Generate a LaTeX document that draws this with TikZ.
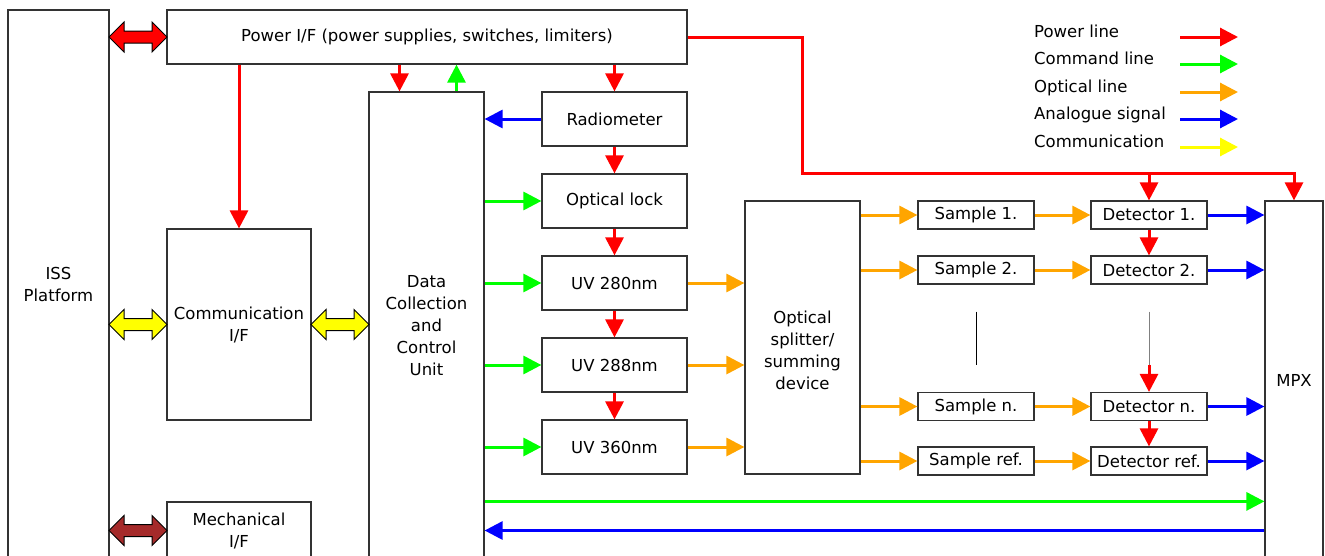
\documentclass[tikz,border=0pt]{standalone}
\usepackage{fontspec}
\setmainfont{DejaVu Sans}
\usepackage{tikz}
\usetikzlibrary{arrows.meta, shapes.arrows, calc}
\definecolor{pwrred}{HTML}{FF0000}
\definecolor{cmdgreen}{HTML}{00FF00}
\definecolor{optorange}{HTML}{FFA500}
\definecolor{anablue}{HTML}{0000FF}
\definecolor{comyellow}{HTML}{FFFF00}
\definecolor{mechbrown}{HTML}{A52A2A}
\definecolor{myborder}{HTML}{333333}
\tikzset{
block/.style={
draw=myborder,
fill=white,
line width=1.2pt,
inner sep=0pt,
align=center,
font=\fontsize{16.5}{22}\selectfont
},
chainbox/.style={
block,
minimum width=145,
minimum height=54
},
smallbox/.style={
block,
minimum width=116,
minimum height=28
},
labeltext/.style={
inner sep=0pt,
font=\fontsize{16.5}{22}\selectfont
},
linkarrow/.style={
double arrow,
draw=black,
line width=1pt,
inner xsep=0pt,
inner ysep=5.5pt,
double arrow head extend=9pt,
double arrow tip angle=90,
minimum height=58
},
sigline/.style={
-{Triangle[length=18pt,width=18pt]},
line width=3pt,
draw=#1
},
pwrline/.style={sigline=pwrred},
cmdline/.style={sigline=cmdgreen},
optline/.style={sigline=optorange},
analine/.style={sigline=anablue},
gapline/.style={draw=black, line width=1pt}
}

\begin{document}
\begin{tikzpicture}[x=1pt, y=-1pt]
\clip (0,0) rectangle (1325,555);

% interfaces
\node[block, minimum width=101, minimum height=549] (iss) at (58.5,284.5) {ISS\\Platform};
\node[block, minimum width=520, minimum height=54] (power) at (427,37) {Power I/F (power supplies, switches, limiters)};
\node[block, minimum width=144, minimum height=191] (comm) at (239,324.5) {Communication\\I/F};
\node[block, minimum width=144, minimum height=57] (mech) at (239,530.5) {Mechanical\\I/F};
\node[block, minimum width=115, minimum height=467] (dccu) at (426.5,325.5) {Data\\Collection\\and\\Control\\Unit};

% light sources
\node[chainbox] (radio) at (614.5,119) {Radiometer};
\node[chainbox] (olock) at (614.5,201) {Optical lock};
\node[chainbox] (uv280) at (614.5,283) {UV 280nm};
\node[chainbox] (uv288) at (614.5,365) {UV 288nm};
\node[chainbox] (uv360) at (614.5,447) {UV 360nm};

\node[block, minimum width=115, minimum height=273] (split) at (802.5,337.5) {};
\node[labeltext, align=center] (splittxt) at ([yshift=-12.5pt]split.center) {Optical\\splitter/\\summing\\device};

% samples and detectors
\foreach \id/\txt/\ypos in {1/1./215, 2/2./270, n/n./406.5, r/ref./461} {
  \node[smallbox] (smp\id) at (976,\ypos) {Sample \txt};
  \node[smallbox] (det\id) at (1149,\ypos) {Detector \txt};
}
\node[block, minimum width=58, minimum height=358] (mpx) at (1294,380) {MPX};

% block arrows
\node[linkarrow, fill=pwrred] (isspower) at ($(iss.east |- power)!0.5!(power.west)$) {};
\node[linkarrow, fill=comyellow] (isscomm) at ($(iss.east |- comm)!0.5!(comm.west)$) {};
\node[linkarrow, fill=comyellow] (commdccu) at ($(comm.east)!0.5!(comm.east -| dccu.west)$) {};
\node[linkarrow, fill=mechbrown] (issmech) at ($(iss.east |- mech)!0.5!(mech.west)$) {};

% power lines
\draw[pwrline] (power.south -| comm) -- (comm.north);
\draw[pwrline] ([xshift=-27pt]dccu.north |- power.south) -- ([xshift=-27pt]dccu.north);
\draw[cmdline] ([xshift=30pt]dccu.north) -- ([xshift=30pt]dccu.north |- power.south);
\draw[pwrline] (power.south -| radio) -- (radio.north);
\foreach \a/\b in {radio/olock, olock/uv280, uv280/uv288, uv288/uv360} {
  \draw[pwrline] (\a.south) -- (\b.north);
}
\draw[pwrline] (power.east) -| (split |- olock.north) -| (mpx.north);
\draw[pwrline] (det1 |- olock.north) -- (det1.north);
\draw[pwrline] (det1.south) -- (det2.north);
\draw[pwrline] (detn.south) -- (detr.north);
\draw[gapline] ([yshift=-27pt]smp2.south) -- ([yshift=27pt]smpn.north);
\draw[gapline, draw=gray] ([yshift=-27pt]det2.south) -- ([yshift=27pt]detn.north);
\draw[pwrline] ([yshift=27pt]detn.north) -- (detn.north);

% command and analogue lines
\draw[analine] (radio.west) -- (radio.west -| dccu.east);
\foreach \a in {olock, uv280, uv288, uv360} {
  \draw[cmdline] (\a.west -| dccu.east) -- (\a.west);
}
\draw[cmdline] (mech.north -| dccu.east) -- (mech.north -| mpx.west);
\draw[analine] (mech -| mpx.west) -- (mech -| dccu.east);

% optical lines
\foreach \a in {uv280, uv288, uv360} {
  \draw[optline] (\a.east) -- (\a.east -| split.west);
}
\foreach \id in {1, 2, n, r} {
  \draw[optline] (smp\id.west -| split.east) -- (smp\id.west);
  \draw[optline] (smp\id.east) -- (det\id.west);
  \draw[analine] (det\id.east) -- (det\id.east -| mpx.west);
}

% legend
\foreach \name/\col/\ypos in {Power line/pwrred/37, Command line/cmdgreen/64, Optical line/optorange/92, Analogue signal/anablue/119, Communication/comyellow/147} {
  \node[labeltext, anchor=base west] (lg\ypos) at (1034,\ypos) {\name};
  \coordinate (lgs\ypos) at (1180,\ypos);
  \coordinate (lge\ypos) at (1238,\ypos);
  \draw[sigline=\col] (lgs\ypos) -- (lge\ypos);
}

\end{tikzpicture}
\end{document}
